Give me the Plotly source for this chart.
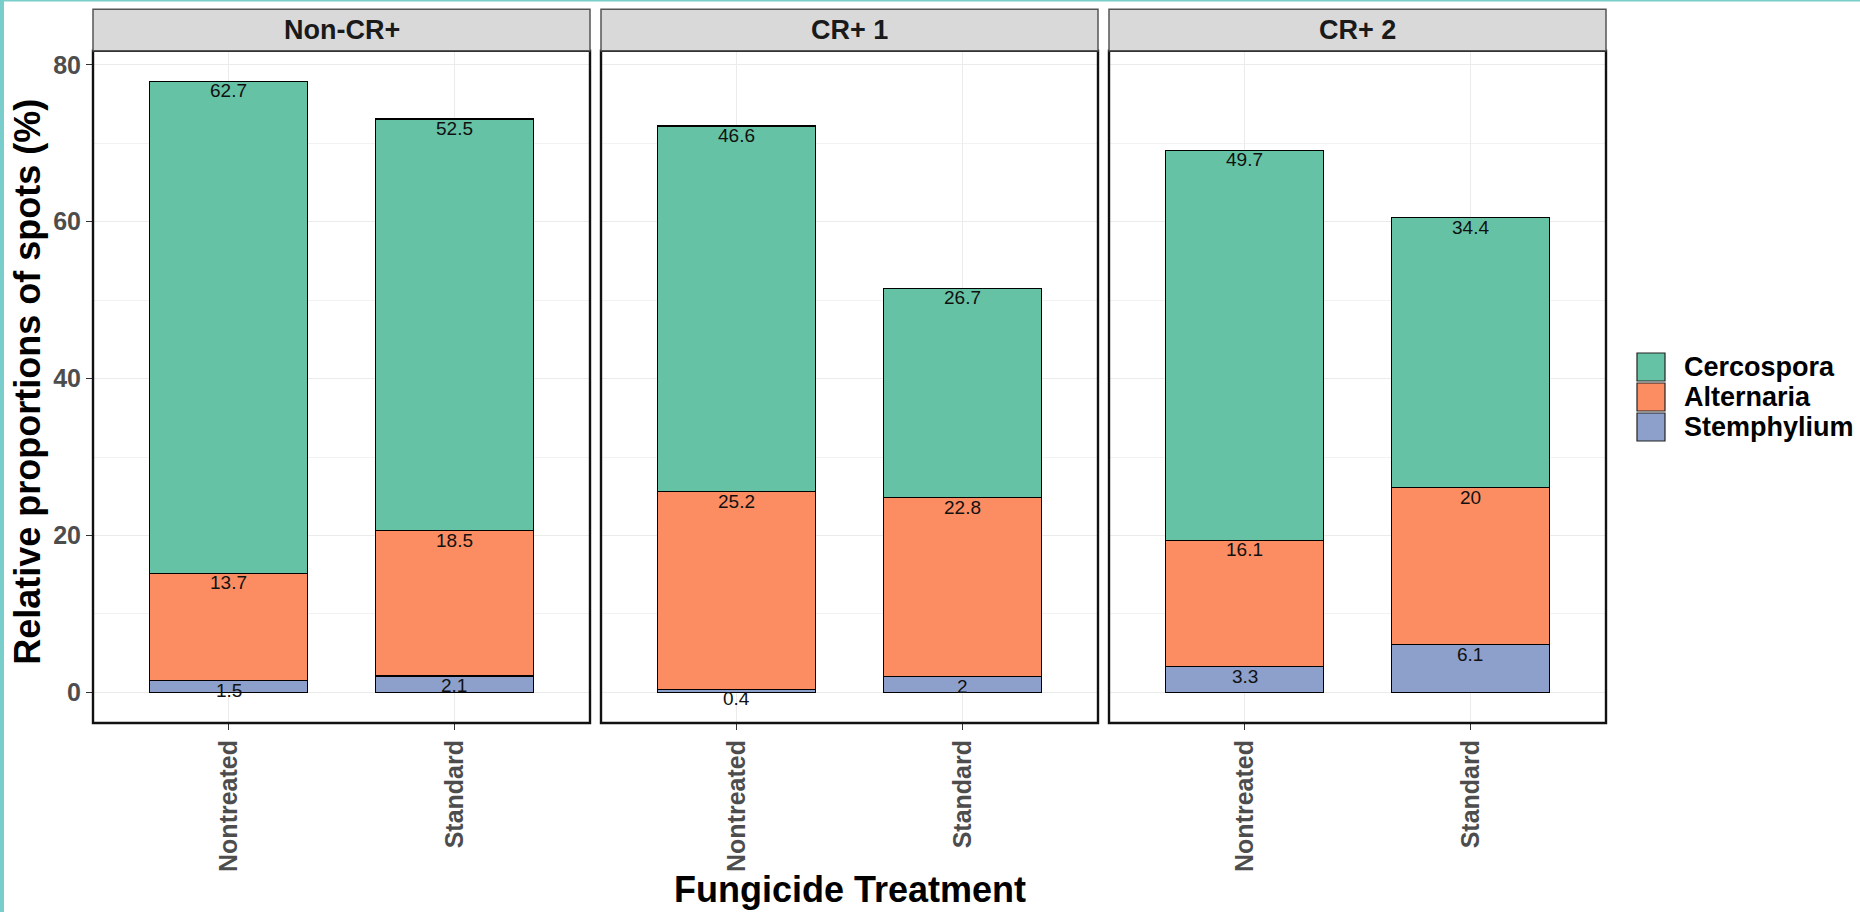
import plotly.graph_objects as go

# ---------------- data ----------------
panels = ["Non-CR+", "CR+ 1", "CR+ 2"]
treatments = ["Nontreated", "Standard"]
series_names = ["Cercospora", "Alternaria", "Stemphylium"]
series_colors = ["#66C2A5", "#FC8D62", "#8DA0CB"]

stemphylium = [[1.5, 2.1], [0.4, 2.0], [3.3, 6.1]]
alternaria = [[13.7, 18.5], [25.2, 22.8], [16.1, 20.0]]
cercospora = [[62.7, 52.5], [46.6, 26.7], [49.7, 34.4]]

y_ticks = [0, 20, 40, 60, 80]
x_title = "Fungicide Treatment"
y_title = "Relative proportions of spots (%)"

# ---------------- style ----------------
FONT = "Liberation Sans, Arial, Helvetica, sans-serif"
W, H = 1860, 912
px_x = lambda p: p / W
px_y = lambda p: 1 - p / H

panel_px = [(93, 590), (601, 1098), (1109, 1606)]
plot_top, plot_bot = 50.7, 723
strip_top = 9.3

totals = [[s + a + c for s, a, c in zip(ss, aa, cc)]
          for ss, aa, cc in zip(stemphylium, alternaria, cercospora)]
ymax = max(max(t) for t in totals)
yrange = [-0.05 * ymax, 1.05 * ymax]

def fmt(v):
    return f"{v:g}"

fig = go.Figure()
layout = dict(
    width=W, height=H,
    margin=dict(l=0, r=0, t=0, b=0),
    paper_bgcolor="white", plot_bgcolor="white",
    barmode="stack", bargap=0.3,
    showlegend=False,
    font=dict(family=FONT),
)
shapes, annotations = [], []

stack_order = [("Stemphylium", stemphylium, series_colors[2]),
               ("Alternaria", alternaria, series_colors[1]),
               ("Cercospora", cercospora, series_colors[0])]

for i, pname in enumerate(panels):
    sfx = "" if i == 0 else str(i + 1)
    xa, ya = "x" + sfx, "y" + sfx
    cum = [0.0, 0.0]
    for name, vals, col in stack_order:
        v = vals[i]
        fig.add_trace(go.Bar(
            x=treatments, y=v, name=name, width=0.7,
            marker=dict(color=col, line=dict(color="black", width=1.2)),
            xaxis=xa, yaxis=ya, showlegend=False, hoverinfo="skip"))
        cum = [c + d for c, d in zip(cum, v)]
        for t, val, top in zip(treatments, v, cum):
            annotations.append(dict(
                text=fmt(val), xref=xa, yref=ya, x=t, y=top,
                xanchor="center", yanchor="middle", yshift=-9.5,
                showarrow=False,
                font=dict(family=FONT, size=19, color="#111111")))

    x0, x1 = panel_px[i]
    layout["xaxis" + sfx] = dict(
        domain=[px_x(x0), px_x(x1)], anchor=ya, type="category",
        range=[-0.6, 1.6], showgrid=True, gridcolor="#EBEBEB", gridwidth=1,
        ticks="outside", ticklen=6, tickcolor="#333333", tickwidth=1,
        tickangle=-90, zeroline=False, showline=False, automargin=False,
        tickfont=dict(family=FONT, size=25, color="#4D4D4D", weight="bold"),
        fixedrange=True)
    layout["yaxis" + sfx] = dict(
        domain=[px_y(plot_bot), px_y(plot_top)], anchor=xa,
        range=yrange, tickmode="array", tickvals=y_ticks,
        showticklabels=(i == 0), ticks="outside" if i == 0 else "",
        ticklen=6, tickcolor="#333333", tickwidth=1,
        showgrid=True, gridcolor="#EBEBEB", gridwidth=1,
        minor=dict(dtick=10, tick0=0, showgrid=True, gridcolor="#F2F2F2",
                   gridwidth=1, ticks=""),
        zeroline=False, showline=False, automargin=False,
        tickfont=dict(family=FONT, size=25, color="#4D4D4D", weight="bold"),
        fixedrange=True)
    if i > 0:
        layout["yaxis" + sfx]["matches"] = "y"

    # panel border
    shapes.append(dict(type="rect", xref=xa + " domain", yref=ya + " domain",
                       x0=0, x1=1, y0=0, y1=1,
                       line=dict(color="#111111", width=2.4), layer="above"))
    # strip
    shapes.append(dict(type="rect", xref="paper", yref="paper",
                       x0=px_x(x0), x1=px_x(x1),
                       y0=px_y(plot_top), y1=px_y(strip_top),
                       fillcolor="#D9D9D9",
                       line=dict(color="#555555", width=1.5)))
    annotations.append(dict(
        text=pname, xref="paper", yref="paper",
        x=px_x((x0 + x1) / 2), y=px_y((strip_top + plot_top) / 2),
        xanchor="center", yanchor="middle", showarrow=False,
        font=dict(family=FONT, size=27, color="#1A1A1A", weight="bold")))

# axis titles
annotations.append(dict(
    text=x_title, xref="paper", yref="paper",
    x=px_x((panel_px[0][0] + panel_px[-1][1]) / 2), y=px_y(889),
    xanchor="center", yanchor="middle", showarrow=False,
    font=dict(family=FONT, size=36, color="black", weight="bold")))
annotations.append(dict(
    text=y_title, xref="paper", yref="paper",
    x=px_x(28), y=px_y((plot_top + plot_bot) / 2 - 5), textangle=-90,
    xanchor="center", yanchor="middle", showarrow=False,
    font=dict(family=FONT, size=36, color="black", weight="bold")))

# legend (custom)
key_x0, key_x1 = 1637, 1665
key_tops = [353, 383, 413]
for name, col, kt in zip(series_names, series_colors, key_tops):
    shapes.append(dict(type="rect", xref="paper", yref="paper",
                       x0=px_x(key_x0), x1=px_x(key_x1),
                       y0=px_y(kt + 28), y1=px_y(kt),
                       fillcolor=col, line=dict(color="#222222", width=1.2)))
    annotations.append(dict(
        text=name, xref="paper", yref="paper",
        x=px_x(1682), y=px_y(kt + 14), xanchor="left", yanchor="middle",
        showarrow=False,
        font=dict(family=FONT, size=27, color="black", weight="bold")))

# teal frame from the screenshot
shapes.append(dict(type="rect", xref="paper", yref="paper",
                   x0=0, x1=px_x(4), y0=0, y1=1,
                   fillcolor="#79CDCA", line=dict(width=0)))
shapes.append(dict(type="rect", xref="paper", yref="paper",
                   x0=0, x1=1, y0=px_y(1.5), y1=1,
                   fillcolor="#79CDCA", line=dict(width=0)))

layout["shapes"] = shapes
layout["annotations"] = annotations
fig.update_layout(**layout)

fig.write_html("out.html", config={"displayModeBar": False},
               post_script="document.body.style.margin='0';document.body.style.overflow='hidden';")
